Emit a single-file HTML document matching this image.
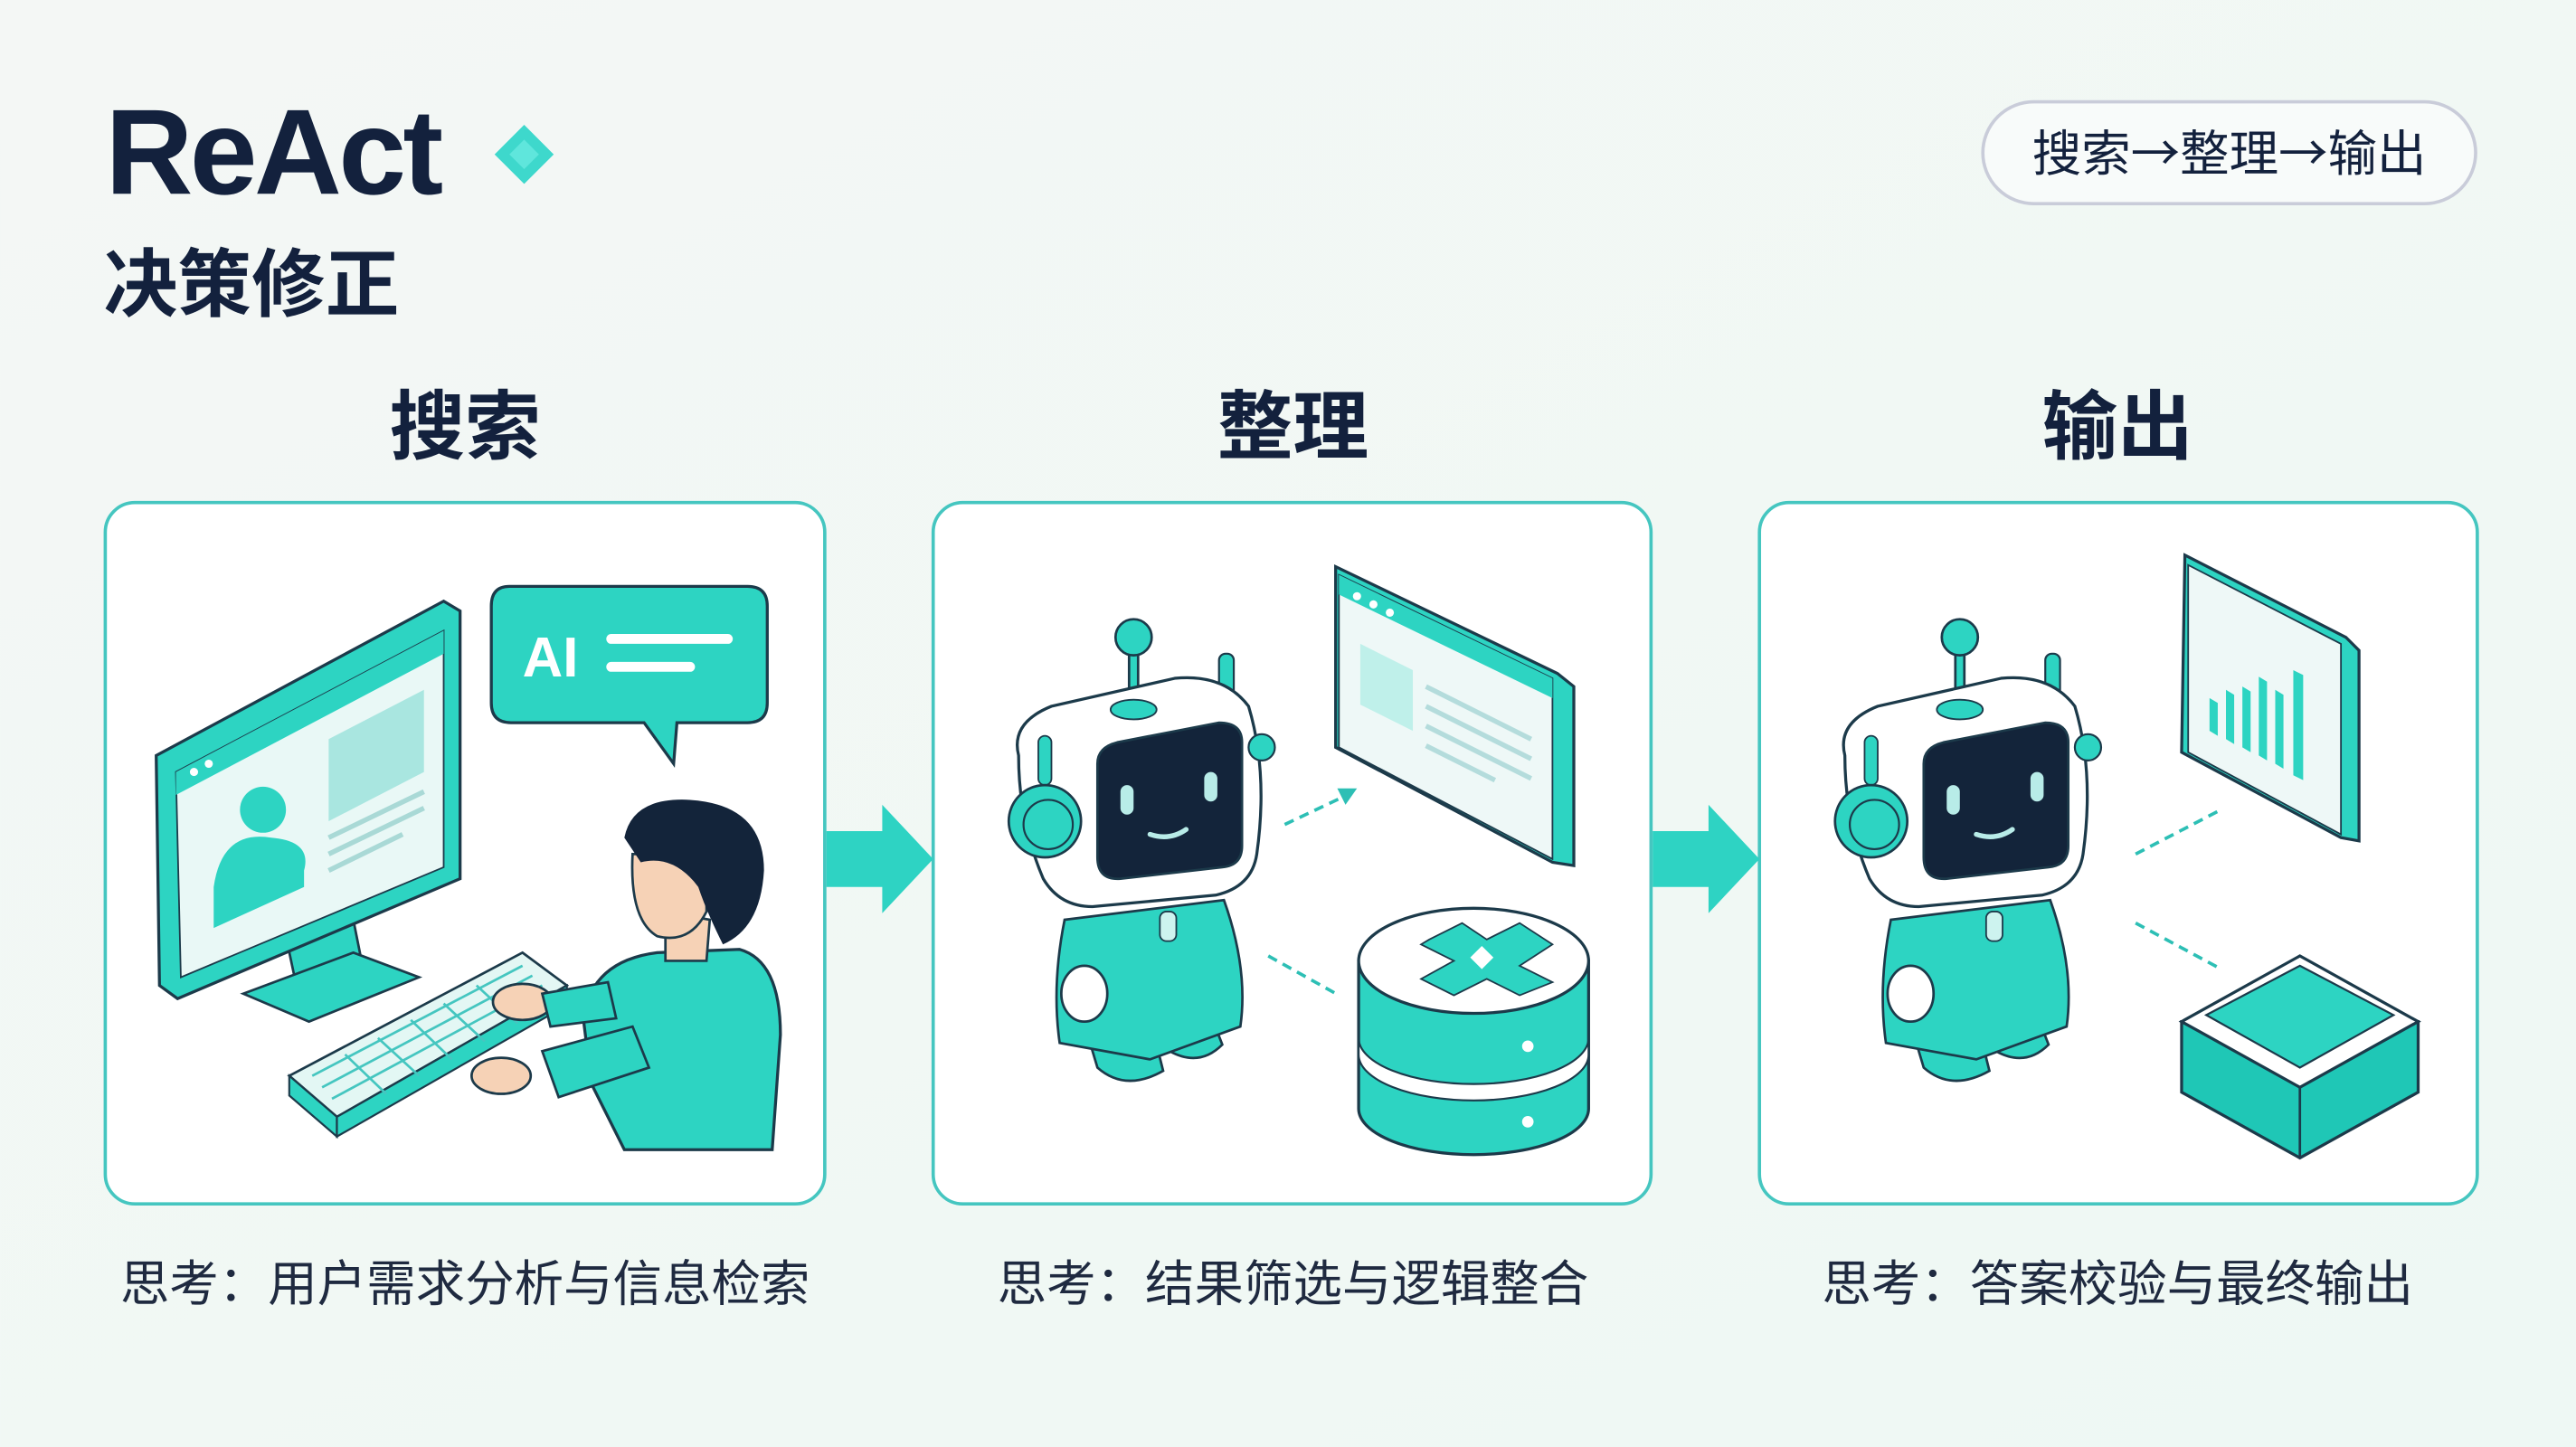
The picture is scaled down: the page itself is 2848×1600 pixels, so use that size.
<!DOCTYPE html>
<html><head><meta charset="utf-8"><style>
html,body{margin:0;padding:0;width:2848px;height:1600px;overflow:hidden;background:#f3f8f6;}
svg{display:block}
text{font-family:"Liberation Sans","Noto Sans CJK SC",sans-serif;}
.cjk{font-family:"Noto Sans CJK SC","Liberation Sans",sans-serif;}
</style></head><body>
<svg width="2848" height="1600" viewBox="0 0 1568 881" xmlns="http://www.w3.org/2000/svg">
<defs>
<linearGradient id="bg" x1="0" y1="0" x2="1" y2="1"><stop offset="0" stop-color="#f4f7f5"/><stop offset="1" stop-color="#eef8f4"/></linearGradient>
<g id="robot">
  <!-- legs -->
  <path d="M662 630 L668 650 Q685 665 708 652 L702 628 Z" fill="#2dd4c2" stroke="#1c3a4a" stroke-width="1.5"/>
  <path d="M705 622 L712 640 Q730 650 744 636 L737 618 Z" fill="#2dd4c2" stroke="#1c3a4a" stroke-width="1.5"/>
  <!-- body -->
  <path d="M648 560 Q640 600 645 635 L700 645 L755 625 Q760 590 745 548 Z" fill="#2dd4c2" stroke="#1c3a4a" stroke-width="1.5"/>
  <ellipse cx="660" cy="605" rx="14" ry="17" fill="#fff" stroke="#1c3a4a" stroke-width="1.5"/>
  <rect x="706" y="555" width="10" height="18" rx="4" fill="#cdf3ef" stroke="#1c3a4a" stroke-width="1"/>
  <!-- antenna -->
  <line x1="690" y1="392" x2="690" y2="428" stroke="#1c3a4a" stroke-width="7"/>
  <line x1="690" y1="392" x2="690" y2="428" stroke="#2dd4c2" stroke-width="4"/>
  <circle cx="690" cy="388" r="11" fill="#2dd4c2" stroke="#1c3a4a" stroke-width="1.5"/>
  <rect x="742" y="398" width="9" height="30" rx="4" fill="#2dd4c2" stroke="#1c3a4a" stroke-width="1.2"/>
  <!-- head -->
  <path d="M620 460 Q615 440 640 430 L715 413 Q745 410 760 430 Q772 470 765 520 Q762 540 740 545 L665 552 Q645 552 635 535 Q620 500 620 460 Z" fill="#ffffff" stroke="#1c3a4a" stroke-width="1.8"/>
  <ellipse cx="690" cy="432" rx="14" ry="6" fill="#2dd4c2" stroke="#1c3a4a" stroke-width="1"/>
  <rect x="632" y="448" width="8" height="30" rx="4" fill="#2dd4c2" stroke="#1c3a4a" stroke-width="1"/>
  <circle cx="636" cy="500" r="22" fill="#2dd4c2" stroke="#1c3a4a" stroke-width="1.5"/>
  <circle cx="638" cy="502" r="15" fill="#2dd4c2" stroke="#1c3a4a" stroke-width="1.2"/>
  <path d="M668 465 Q668 455 680 452 L742 440 Q756 440 756 452 L756 515 Q756 527 744 528 L682 535 Q668 536 668 522 Z" fill="#13243a" stroke="#1c3a4a" stroke-width="1.5"/>
  <rect x="682" y="478" width="8" height="18" rx="4" fill="#b8ece8"/>
  <rect x="733" y="470" width="8" height="18" rx="4" fill="#b8ece8"/>
  <path d="M700 508 Q712 512 722 505" stroke="#b8ece8" stroke-width="3" fill="none" stroke-linecap="round"/>
  <circle cx="768" cy="455" r="8" fill="#2dd4c2" stroke="#1c3a4a" stroke-width="1.2"/>
</g>
</defs>
<rect width="1568" height="881" fill="url(#bg)"/>

<!-- header -->
<text x="64" y="118" font-size="74" font-weight="bold" fill="#13213d" letter-spacing="-2">ReAct</text>
<path d="M319 76 L337 94 L319 112 L301 94 Z" fill="#3ed8cc"/>
<path d="M319 85 L328 94 L319 103 L310 94 Z" fill="#5fe6dc"/>
<text x="63" y="189" font-size="45" font-weight="bold" fill="#13213d" class="cjk">决策修正</text>

<rect x="1207" y="62" width="300" height="62" rx="31" fill="#f8fbfa" stroke="#c9ccd9" stroke-width="2"/>
<text x="1357" y="104" font-size="30" fill="#13213d" text-anchor="middle" class="cjk">搜索→整理→输出</text>

<!-- step titles -->
<text x="283" y="276" font-size="46" font-weight="bold" fill="#13213d" text-anchor="middle">搜索</text>
<text x="787" y="276" font-size="46" font-weight="bold" fill="#13213d" text-anchor="middle">整理</text>
<text x="1289" y="276" font-size="46" font-weight="bold" fill="#13213d" text-anchor="middle">输出</text>

<!-- panels -->
<rect x="64" y="306" width="438" height="427" rx="18" fill="#ffffff" stroke="#45c6c0" stroke-width="2"/>
<rect x="568" y="306" width="437" height="427" rx="18" fill="#ffffff" stroke="#45c6c0" stroke-width="2"/>
<rect x="1071" y="306" width="437" height="427" rx="18" fill="#ffffff" stroke="#45c6c0" stroke-width="2"/>

<!-- arrows -->
<path d="M503 506 L537 506 L537 490 L568 523 L537 556 L537 540 L503 540 Z" fill="#2ed3c3"/>
<path d="M1006 506 L1040 506 L1040 490 L1071 523 L1040 556 L1040 540 L1006 540 Z" fill="#2ed3c3"/>

<!-- captions -->
<text x="283" y="792" font-size="30" fill="#1f2a40" text-anchor="middle">思考：用户需求分析与信息检索</text>
<text x="787" y="792" font-size="30" fill="#1f2a40" text-anchor="middle">思考：结果筛选与逻辑整合</text>
<text x="1289" y="792" font-size="30" fill="#1f2a40" text-anchor="middle">思考：答案校验与最终输出</text>

<!-- PANEL 1 -->
<path d="M175 575 L215 560 L222 595 L182 608 Z" fill="#2dd4c2" stroke="#1c3a4a" stroke-width="1.5"/>
<path d="M148 605 L215 580 L255 595 L188 622 Z" fill="#2dd4c2" stroke="#1c3a4a" stroke-width="1.5"/>
<path d="M95 460 L270 366 L280 372 L280 535 L108 608 L97 600 Z" fill="#2dd4c2" stroke="#1c3a4a" stroke-width="1.8"/>
<path d="M107 470 L270 384 L270 528 L110 595 Z" fill="#e9f8f6" stroke="#1c3a4a" stroke-width="1"/>
<path d="M107 470 L270 384 L270 398 L107 484 Z" fill="#2dd4c2"/>
<circle cx="118" cy="470" r="2.5" fill="#fff"/><circle cx="127" cy="465" r="2.5" fill="#fff"/>
<path d="M200 450 L258 420 L258 470 L200 500 Z" fill="#a9e6e0"/>
<path d="M200 510 L258 482 M200 520 L258 492 M200 530 L245 508" stroke="#a9d9d6" stroke-width="3"/>
<circle cx="160" cy="493" r="14" fill="#2dd4c2"/>
<path d="M130 540 Q135 505 165 510 Q190 512 185 530 L185 540 L130 565 Z" fill="#2dd4c2"/>
<path d="M310 357 L455 357 Q467 357 467 369 L467 428 Q467 440 455 440 L412 440 L410 465 L392 440 L311 440 Q299 440 299 428 L299 369 Q299 357 310 357 Z" fill="#2dd4c2" stroke="#1c3a4a" stroke-width="1.8"/>
<text x="318" y="412" font-size="34" font-weight="bold" fill="#ffffff">AI</text>
<line x1="372" y1="389" x2="443" y2="389" stroke="#fff" stroke-width="6" stroke-linecap="round"/>
<line x1="372" y1="406" x2="420" y2="406" stroke="#fff" stroke-width="6" stroke-linecap="round"/>
<path d="M176 655 L318 580 L345 600 L205 680 Z" fill="#e3f7f4" stroke="#1c3a4a" stroke-width="1.5"/>
<path d="M176 655 L205 680 L205 692 L176 667 Z" fill="#2dd4c2" stroke="#1c3a4a" stroke-width="1.2"/>
<path d="M205 680 L345 600 L345 612 L205 692 Z" fill="#2dd4c2" stroke="#1c3a4a" stroke-width="1.2"/>
<g stroke="#45c6c0" stroke-width="1.5">
<path d="M190 655 L318 588 M196 662 L324 594 M202 669 L330 600"/>
<path d="M210 642 L235 666 M230 632 L255 655 M250 621 L275 645 M270 611 L295 634 M290 600 L315 623"/>
</g>
<path d="M355 620 Q360 585 400 580 L450 578 Q475 585 475 630 L470 700 L380 700 Q370 680 360 660 Z" fill="#2dd4c2" stroke="#1c3a4a" stroke-width="1.8"/>
<path d="M330 640 L385 625 L395 650 L340 668 Z" fill="#2dd4c2" stroke="#1c3a4a" stroke-width="1.5"/>
<ellipse cx="318" cy="610" rx="18" ry="11" fill="#f6d2b6" stroke="#1c3a4a" stroke-width="1.5"/>
<ellipse cx="305" cy="655" rx="18" ry="11" fill="#f6d2b6" stroke="#1c3a4a" stroke-width="1.5"/>
<path d="M330 605 L370 598 L375 620 L335 625 Z" fill="#2dd4c2" stroke="#1c3a4a" stroke-width="1.5"/>
<path d="M405 555 L405 585 L430 585 L432 560 Z" fill="#f6d2b6" stroke="#1c3a4a" stroke-width="1.5"/>
<path d="M385 520 Q383 560 400 570 Q420 575 430 555 L430 520 Z" fill="#f6d2b6" stroke="#1c3a4a" stroke-width="1.5"/>
<path d="M380 510 Q385 485 420 487 Q465 490 465 530 Q463 565 440 575 Q430 555 425 540 Q410 520 390 525 Z" fill="#13243a"/>

<!-- PANEL 2 -->
<use href="#robot"/>
<path d="M813 345 L948 410 L958 418 L958 527 L945 525 L813 455 Z" fill="#2dd4c2" stroke="#1c3a4a" stroke-width="1.8"/>
<path d="M815 350 L945 413 L945 523 L815 455 Z" fill="#eef8f7" stroke="#1c3a4a" stroke-width="1"/>
<path d="M815 350 L945 413 L945 425 L815 362 Z" fill="#2dd4c2"/>
<circle cx="826" cy="363" r="2.5" fill="#fff"/><circle cx="836" cy="368" r="2.5" fill="#fff"/><circle cx="846" cy="373" r="2.5" fill="#fff"/>
<path d="M828 392 L860 408 L860 445 L828 429 Z" fill="#bff0ea"/>
<path d="M868 418 L932 450 M868 430 L932 462 M868 442 L932 474 M868 454 L910 475" stroke="#b4dcdc" stroke-width="3"/>
<path d="M782 502 L818 485" stroke="#2dbfb5" stroke-width="2" stroke-dasharray="6 4"/>
<path d="M826 480 L814 480 L819 490 Z" fill="#2dbfb5"/>
<path d="M772 582 L815 606" stroke="#2dbfb5" stroke-width="2" stroke-dasharray="6 4"/>
<path d="M827 585 L827 675 A70 28 0 0 0 967 675 L967 585 Z" fill="#2dd4c2" stroke="#1c3a4a" stroke-width="1.8"/>
<path d="M827 632 A70 28 0 0 0 967 632 L967 642 A70 28 0 0 1 827 642 Z" fill="#ffffff" stroke="#1c3a4a" stroke-width="1.2"/>
<ellipse cx="897" cy="585" rx="70" ry="32" fill="#ffffff" stroke="#1c3a4a" stroke-width="1.8"/>
<path d="M870 572 L890 562 L905 572 L925 562 L945 575 L925 588 L945 598 L925 606 L905 596 L885 606 L865 596 L885 585 L865 575 Z" fill="#2dd4c2" stroke="#1c3a4a" stroke-width="1"/>
<rect x="897" y="578" width="10" height="10" fill="#fff" transform="rotate(45 902 583)"/>
<circle cx="930" cy="637" r="3.5" fill="#fff"/><circle cx="930" cy="683" r="3.5" fill="#fff"/>

<!-- PANEL 3 -->
<use href="#robot" transform="translate(503 0)"/>
<path d="M1330 338 L1428 388 L1436 396 L1436 512 L1425 510 L1328 458 Z" fill="#2dd4c2" stroke="#1c3a4a" stroke-width="1.8"/>
<path d="M1332 344 L1425 392 L1425 508 L1332 458 Z" fill="#eef8f7" stroke="#1c3a4a" stroke-width="1"/>
<g fill="#2dd4c2">
<path d="M1345 425 L1350 428 L1350 448 L1345 445 Z"/>
<path d="M1355 420 L1360 423 L1360 453 L1355 450 Z"/>
<path d="M1365 418 L1370 421 L1370 458 L1365 455 Z"/>
<path d="M1375 412 L1380 415 L1380 463 L1375 460 Z"/>
<path d="M1385 420 L1390 423 L1390 468 L1385 465 Z"/>
<path d="M1396 408 L1402 411 L1402 475 L1396 472 Z"/>
</g>
<path d="M1300 520 L1350 494" stroke="#2dbfb5" stroke-width="2" stroke-dasharray="6 4"/>
<path d="M1300 562 L1352 590" stroke="#2dbfb5" stroke-width="2" stroke-dasharray="6 4"/>
<path d="M1328 622 L1328 665 L1400 705 L1472 665 L1472 622 Z" fill="#1fc7b6" stroke="#1c3a4a" stroke-width="1.8"/>
<path d="M1400 662 L1400 705" stroke="#1c3a4a" stroke-width="1.5"/>
<path d="M1328 622 L1400 582 L1472 622 L1400 662 Z" fill="#ffffff" stroke="#1c3a4a" stroke-width="1.8"/>
<path d="M1343 618 L1400 588 L1457 618 L1400 650 Z" fill="#2dd4c2" stroke="#1c3a4a" stroke-width="1.2"/>
</svg>
</body></html>
